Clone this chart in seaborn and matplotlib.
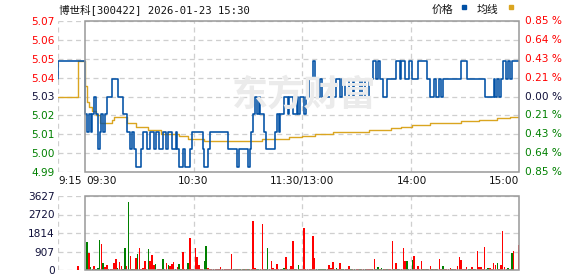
import numpy as np
import pandas as pd
import matplotlib
matplotlib.use("Agg")
import matplotlib.pyplot as plt
from matplotlib.patches import Rectangle
import seaborn as sns

# ---------------- data ----------------
title_text = "博世科[300422] 2026-01-23 15:30"
legend_price = "价格"
legend_avg = "均线"
watermark = "东方财富"
prev_close = 5.03
range_pct = 0.85
price_tick_labels = ["4.99", "5.00", "5.01", "5.02", "5.03", "5.04", "5.05", "5.06", "5.07"]
pct_tick_labels = ["0.85 %", "0.64 %", "0.43 %", "0.21 %", "0.00 %", "0.21 %", "0.43 %", "0.64 %", "0.85 %"]
vol_max = 3627
vol_tick_labels = ["0", "907", "1814", "2720", "3627"]
time_labels = ["9:15", "09:30", "10:30", "11:30/13:00", "14:00", "15:00"]
time_minutes = [-15, 0, 60, 120, 180, 240]

# call auction (minutes relative to 09:30)
auction_minutes = [-15, -15]
auction_price = [5.04, 5.05]
auction_avg_minutes = [-15, -4]
auction_avg = [5.03, 5.05]
auction_vol_minute = [-4]
auction_vol = [196]

# one price per minute, 09:30 .. 15:00 (241 points)
price = [
    5.02, 5.01, 5.02, 5.01, 5.02, 5.03, 5.02, 5.00, 5.01, 5.02,
    5.01, 5.02, 5.03, 5.03, 5.03, 5.04, 5.04, 5.04, 5.03, 5.03,
    5.03, 5.02, 5.02, 5.01, 5.01, 5.00, 5.01, 5.00, 4.99, 4.99,
    4.99, 5.00, 5.01, 5.01, 5.00, 5.00, 5.01, 5.01, 5.00, 5.01,
    5.01, 5.00, 5.00, 5.01, 5.01, 5.00, 5.01, 5.01, 5.00, 5.00,
    5.01, 5.00, 4.99, 4.99, 5.00, 4.99, 4.99, 4.99, 5.00, 5.01,
    5.01, 5.01, 5.01, 5.01, 5.01, 5.00, 4.99, 4.99, 5.00, 5.01,
    5.01, 5.01, 5.01, 5.01, 5.01, 5.01, 5.01, 5.01, 5.01, 5.00,
    5.00, 5.00, 5.00, 5.00, 4.99, 5.00, 5.00, 5.00, 5.00, 5.00,
    4.99, 5.00, 5.01, 5.02, 5.03, 5.02, 5.03, 5.02, 5.02, 5.01,
    5.00, 5.00, 5.00, 5.00, 5.00, 5.01, 5.02, 5.01, 5.02, 5.02,
    5.03, 5.03, 5.02, 5.03, 5.03, 5.02, 5.02, 5.03, 5.02, 5.03,
    5.03, 5.02, 5.03, 5.03, 5.04, 5.04, 5.05, 5.04, 5.04, 5.03,
    5.04, 5.03, 5.03, 5.03, 5.03, 5.03, 5.03, 5.03, 5.03, 5.04,
    5.04, 5.03, 5.04, 5.04, 5.03, 5.03, 5.04, 5.04, 5.03, 5.04,
    5.04, 5.04, 5.03, 5.04, 5.04, 5.03, 5.03, 5.04, 5.04, 5.05,
    5.05, 5.04, 5.05, 5.04, 5.04, 5.03, 5.03, 5.04, 5.04, 5.04,
    5.04, 5.04, 5.05, 5.05, 5.04, 5.05, 5.05, 5.04, 5.04, 5.05,
    5.05, 5.04, 5.04, 5.04, 5.05, 5.05, 5.05, 5.05, 5.05, 5.04,
    5.04, 5.03, 5.03, 5.04, 5.03, 5.03, 5.04, 5.03, 5.04, 5.04,
    5.04, 5.04, 5.04, 5.04, 5.04, 5.04, 5.04, 5.04, 5.05, 5.05,
    5.05, 5.04, 5.04, 5.04, 5.04, 5.04, 5.04, 5.04, 5.04, 5.04,
    5.04, 5.03, 5.03, 5.03, 5.03, 5.03, 5.04, 5.03, 5.04, 5.03,
    5.04, 5.05, 5.05, 5.04, 5.05, 5.04, 5.05, 5.05, 5.05, 5.05,
    5.05,
]

# average-price line, value changes (minute, value)
avg_minutes = [0, 1, 2, 4, 6, 8, 15, 16, 23, 28, 35, 42, 52, 57, 66, 98, 113, 120,
               127, 137, 157, 169, 175, 181, 191, 208, 218, 228, 235, 240]
avg_values = [5.036, 5.027, 5.024, 5.022, 5.0195, 5.0148, 5.0165, 5.0185, 5.0148, 5.0129,
              5.011, 5.0086, 5.0076, 5.0059, 5.0048, 5.0059, 5.0069, 5.0076, 5.0087, 5.0097,
              5.0109, 5.0121, 5.0127, 5.0137, 5.0148, 5.0161, 5.0168, 5.0177, 5.0186, 5.0186]

# volume per minute 09:30 .. 15:00
volume = [
    0, 1370, 840, 130, 50, 200, 60, 100, 1470, 1270,
    340, 130, 250, 50, 50, 50, 330, 540, 100, 375,
    200, 50, 1080, 200, 3330, 690, 50, 50, 590, 780,
    1090, 50, 100, 460, 50, 1030, 460, 740, 260, 290,
    50, 50, 50, 540, 50, 340, 260, 200, 290, 390,
    50, 130, 290, 50, 900, 50, 50, 330, 1570, 50,
    50, 1080, 650, 260, 50, 50, 420, 1180, 100, 50,
    50, 50, 50, 50, 50, 130, 50, 50, 50, 50,
    50, 790, 50, 50, 50, 50, 50, 50, 50, 50,
    50, 50, 50, 2420, 100, 50, 50, 50, 2270, 50,
    50, 1080, 50, 440, 100, 50, 290, 50, 50, 50,
    100, 650, 50, 50, 200, 1420, 50, 50, 250, 50,
    50, 2070, 50, 50, 50, 50, 1670, 590, 50, 50,
    50, 50, 50, 50, 50, 245, 100, 375, 50, 100,
    50, 340, 50, 50, 50, 50, 200, 50, 50, 50,
    50, 50, 50, 50, 50, 50, 50, 50, 50, 50,
    540, 50, 130, 50, 100, 50, 50, 50, 50, 50,
    1420, 50, 340, 50, 50, 50, 1080, 440, 440, 50,
    50, 500, 690, 50, 200, 50, 440, 50, 50, 50,
    50, 200, 50, 50, 50, 50, 540, 50, 200, 50,
    50, 50, 100, 50, 50, 50, 200, 620, 490, 50,
    50, 150, 50, 50, 150, 50, 50, 930, 150, 150,
    50, 1130, 50, 100, 100, 50, 340, 260, 340, 50,
    245, 1910, 130, 50, 80, 50, 850, 930, 0, 0,
    1225,
]
down_minutes = [1, 3, 4, 6, 7, 8, 10, 13, 18, 21, 22, 24, 26, 29, 35, 39, 43, 46, 50, 52, 53,
                57, 66, 67, 82, 84, 86, 88, 90, 95, 96, 100, 101, 109, 110, 112, 116, 118,
                128, 129, 130, 131, 132, 133, 139, 142, 143, 147, 149, 152, 155, 159, 161,
                162, 164, 165, 167, 171, 173, 178, 179, 181, 187, 189, 192, 194, 198, 203,
                212, 213, 215, 222, 223, 228, 234, 236]

# ---------------- styling ----------------
sns.set_theme(style="white")
plt.rcParams["font.family"] = ["DejaVu Sans", "Noto Sans CJK SC"]

BLUE = "#0050a5"
GOLD = "#daa520"
RED = "#ff0000"
GREEN = "#008000"
DARK = "#10103a"
GRID = "#cfcfcf"
FRAME = "#999999"

W, H = 578, 276
fig = plt.figure(figsize=(W / 100, H / 100), dpi=100)
fig.patch.set_facecolor("white")

def fx(px):
    return px / W

def fy(py):
    return 1 - py / H

ax = fig.add_axes([fx(58), fy(172), fx(461), 151 / H])
axv = fig.add_axes([fx(58), fy(270), fx(461), 74 / H])

lo = prev_close * (1 - range_pct / 100)
hi = prev_close * (1 + range_pct / 100)
price_ticks = np.linspace(lo, hi, len(price_tick_labels))

for a in (ax, axv):
    a.set_xlim(-15, 240)
    for s in a.spines.values():
        s.set_visible(False)
    a.set_xticks([])
    a.set_facecolor("white")

# grid
for t in price_ticks:
    ax.axhline(t, color=GRID, lw=0.9, ls=(0, (4, 3)), zorder=0)
vol_ticks = np.linspace(0, vol_max, len(vol_tick_labels))
for t in vol_ticks:
    axv.axhline(t, color=GRID, lw=0.9, ls=(0, (4, 3)), zorder=0)
for m in [-15, 60, 120, 180]:
    ax.axvline(m, color=GRID, lw=0.9, ls=(0, (4, 3)), zorder=0)
    axv.axvline(m, color=GRID, lw=0.9, ls=(0, (4, 3)), zorder=0)

# watermark
fig.text(fx(304), fy(95), watermark, fontsize=26, fontweight="bold", color="#ebebeb",
         ha="center", va="center", family=["Noto Sans CJK SC"], zorder=0)

# price lines
minutes = list(range(len(price)))
line_x = auction_minutes + minutes
line_y = auction_price + price
avg_x = auction_avg_minutes + avg_minutes
avg_y = auction_avg + avg_values
sns.lineplot(x=avg_x, y=avg_y, ax=ax, color=GOLD, lw=1.0, drawstyle="steps-post",
             estimator=None, sort=False, zorder=3)
sns.lineplot(x=line_x, y=line_y, ax=ax, color=BLUE, lw=1.15, drawstyle="steps-post",
             estimator=None, sort=False, zorder=4)
ax.set_ylim(lo, hi)
ax.set_xlim(-15, 240)
ax.set_xlabel("")
ax.set_ylabel("")

ax.set_yticks(price_ticks)
ax.set_yticklabels(price_tick_labels)
ax.tick_params(axis="y", length=0, pad=2.5, labelsize=7.6)
for t, lab in zip(price_ticks, ax.get_yticklabels()):
    if t > prev_close + 1e-6:
        lab.set_color(RED)
    elif t < prev_close - 1e-6:
        lab.set_color(GREEN)
    else:
        lab.set_color(DARK)

for t, lab in zip(price_ticks[::-1], pct_tick_labels):
    c = RED if t > prev_close + 1e-6 else (GREEN if t < prev_close - 1e-6 else DARK)
    ax.text(1.013, t, lab, transform=ax.get_yaxis_transform(), ha="left", va="center",
            fontsize=7.6, color=c)

ax.add_patch(Rectangle((0, lo), 240, hi - lo, fill=False, ec=FRAME, lw=1.1,
                       clip_on=False, zorder=6))

# time labels
tx = ax.get_xaxis_transform()
aligns = ["left", "left", "center", "center", "center", "right"]
offs = [0.3, 0.5, 0, 0, 1, 0]
for m, lab, al, o in zip(time_minutes, time_labels, aligns, offs):
    ax.text(m + o, -0.06, lab, transform=tx, ha=al, va="center", fontsize=7.6, color="#111111")

# volume bars
vdf = pd.DataFrame({
    "minute": auction_vol_minute + minutes,
    "volume": auction_vol + volume,
})
vdf["dir"] = np.where(vdf["minute"].isin(down_minutes), "down", "up")
sns.barplot(data=vdf, x="minute", y="volume", hue="dir", native_scale=True, dodge=False,
            palette={"up": RED, "down": GREEN}, width=0.85, saturation=1, errorbar=None,
            legend=False, linewidth=0, edgecolor="none", ax=axv, zorder=3)
for p in axv.patches:
    p.set_antialiased(False)
axv.set_xlim(-15, 240)
axv.set_ylim(0, vol_max)
axv.set_xlabel("")
axv.set_ylabel("")
axv.set_xticks([])
axv.set_yticks(vol_ticks)
axv.set_yticklabels(vol_tick_labels)
axv.tick_params(axis="y", length=0, pad=2.5, labelsize=7.6, labelcolor=DARK)
axv.add_patch(Rectangle((0, 0), 240, vol_max, fill=False, ec=FRAME, lw=1.1,
                        clip_on=False, zorder=6))

# title & legend
fig.text(fx(59), fy(10), title_text, fontsize=7.6, ha="left", va="center",
         family=["DejaVu Sans Mono", "Noto Sans CJK SC"], color="#111111")
fig.text(fx(432), fy(10), legend_price, fontsize=7.8, ha="left", va="center",
         family=["Noto Sans CJK SC"], color="#111111")
fig.text(fx(477), fy(10), legend_avg, fontsize=7.8, ha="left", va="center",
         family=["Noto Sans CJK SC"], color="#111111")
fig.patches.append(Rectangle((fx(462), fy(8.5)), fx(4), 3 / H, transform=fig.transFigure,
                             color=BLUE, figure=fig))
fig.patches.append(Rectangle((fx(509), fy(8.5)), fx(4), 3 / H, transform=fig.transFigure,
                             color=GOLD, figure=fig))

fig.savefig("out.png", dpi=100)
